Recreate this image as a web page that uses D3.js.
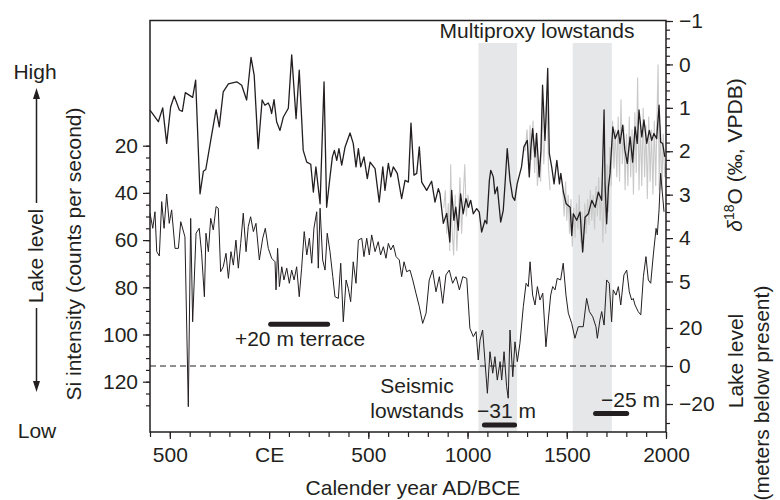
<!DOCTYPE html>
<html>
<head>
<meta charset="utf-8">
<script src="https://cdn.jsdelivr.net/npm/d3@7"></script>
<style>
body { margin: 0; background: #fff; }
svg { display: block; font-family: "Liberation Sans", Arial, sans-serif; }
</style>
</head>
<body>
<svg id="chart" width="780" height="500"></svg>
<script>
// delta 18O record, [year, permil]
var d18oRecord = [[-600,1.05],[-558,1.32],[-536,1.00],[-516,1.82],[-496,0.98],[-478,0.73],[-452,1.05],[-437,1.08],[-422,0.65],[-385,0.76],[-370,0.36],[-348,2.98],[-331,2.46],[-319,2.42],[-291,1.67],[-267,1.04],[-251,1.44],[-231,0.63],[-205,0.45],[-163,0.40],[-138,0.48],[-113,0.82],[-91,-0.16],[-75,0.25],[-55,1.94],[-35,0.82],[-21,0.94],[-4,0.89],[5,0.98],[13,1.13],[25,0.81],[38,1.32],[55,1.52],[72,1.21],[97,1.01],[114,-0.22],[136,1.25],[152,0.13],[172,1.98],[190,2.25],[210,2.30],[223,2.94],[236,2.36],[257,3.21],[277,0.40],[290,3.29],[307,2.59],[319,2.13],[329,1.98],[341,2.21],[352,1.94],[366,2.32],[383,1.90],[408,1.58],[424,1.82],[438,2.36],[450,1.94],[462,2.36],[478,2.13],[495,2.63],[509,2.25],[534,2.40],[555,3.17],[573,2.36],[584,2.90],[601,2.28],[613,2.59],[626,2.36],[646,2.51],[668,3.09],[685,2.67],[702,2.71],[715,1.35],[730,2.55],[744,2.51],[757,1.90],[769,2.71],[794,2.90],[819,2.69],[836,3.17],[853,2.86],[861,2.98],[878,3.66],[895,3.43],[911,4.09],[920,2.90],[931,3.59],[941,3.29],[953,3.82],[965,2.98],[978,3.44],[992,3.09],[1004,3.29],[1016,3.13],[1029,3.44],[1046,3.32],[1059,3.40],[1071,3.86],[1088,3.59],[1097,3.67],[1110,2.67],[1117,2.44],[1130,2.59],[1138,2.98],[1150,2.82],[1167,3.63],[1180,3.36],[1189,2.75],[1200,1.94],[1214,2.67],[1227,3.05],[1238,3.13],[1250,2.75],[1272,2.36],[1284,1.90],[1301,1.75],[1311,2.59],[1318,1.98],[1328,1.48],[1340,2.13],[1348,1.59],[1361,2.59],[1370,1.98],[1378,0.48],[1390,1.75],[1395,1.28],[1404,0.09],[1412,2.05],[1424,2.36],[1436,2.75],[1450,2.21],[1463,2.75],[1470,2.51],[1483,2.94],[1497,3.21],[1517,3.29],[1525,3.94],[1533,3.44],[1550,3.59],[1567,3.40],[1580,4.32],[1592,3.52],[1609,3.44],[1626,3.13],[1643,3.29],[1659,2.94],[1676,3.13],[1688,1.05],[1693,2.75],[1701,3.67],[1710,2.82],[1718,2.51],[1732,1.44],[1744,1.71],[1760,1.52],[1768,1.82],[1782,1.40],[1793,1.98],[1805,2.28],[1819,1.67],[1832,2.25],[1844,1.44],[1855,1.82],[1864,1.05],[1878,1.67],[1889,1.28],[1903,1.82],[1916,1.52],[1928,1.75],[1939,1.59],[1953,1.71],[1965,0.94],[1973,1.79],[1983,1.82],[1994,2.13]];

// higher resolution delta 18O pieces, drawn in grey behind
var d18oFineA = [[880,3.3],[888,2.9],[895,3.9],[903,3.2],[910,4.3],[915,2.3],[922,3.8],[930,4.4],[938,3.0],[946,4.3],[954,3.5],[962,2.6],[970,3.9],[978,3.1],[986,2.3],[994,3.5],[1002,3.0],[1010,3.3]];
var d18oFineB = [[1290,2.0],[1300,1.5],[1308,2.4],[1315,1.4],[1322,2.2],[1330,1.3],[1338,2.5],[1345,1.6],[1352,2.8],[1360,2.2],[1368,2.7],[1375,1.0],[1384,2.3],[1392,1.5],[1400,0.6],[1408,2.4],[1416,2.9]];
var d18oFineC = [[1480,2.9],[1487,3.5],[1494,2.7],[1500,3.6],[1507,3.0],[1514,3.9],[1521,3.1],[1528,4.2],[1535,3.3],[1542,4.0],[1549,3.2],[1556,3.8],[1563,3.0],[1570,4.1],[1577,3.4],[1584,4.3],[1591,3.2],[1598,3.9],[1605,3.1],[1612,3.7],[1619,2.9],[1626,3.6],[1633,3.0],[1640,3.8],[1647,2.8],[1654,3.5],[1661,2.6],[1668,3.6],[1675,2.9],[1682,4.1],[1689,2.7],[1696,3.9],[1703,2.3],[1710,3.4],[1717,1.9],[1724,2.8],[1731,1.3],[1738,2.4],[1745,1.5],[1752,2.6],[1759,1.2],[1766,2.7],[1773,0.8],[1780,2.3],[1787,1.4],[1794,2.9],[1801,1.6],[1808,2.8],[1815,1.2],[1822,2.6],[1829,1.5],[1836,3.0],[1843,1.1],[1850,2.5],[1857,0.3],[1864,2.9],[1871,1.3],[1878,2.8],[1885,1.0],[1892,2.6],[1899,1.4],[1906,3.1],[1913,1.2],[1920,2.7],[1927,1.5],[1934,3.0],[1941,1.3],[1948,2.8],[1955,1.1],[1960,0.0],[1966,2.9],[1972,1.4],[1979,2.9],[1986,1.6],[1993,2.6],[1998,2.3]];

// Si intensity, [year, counts per second]
var siRecord = [[-600,48.6],[-586,55.0],[-575,48.0],[-566,64.9],[-553,66.7],[-541,43.7],[-529,55.0],[-516,40.5],[-503,52.9],[-491,47.2],[-474,63.5],[-457,63.5],[-445,52.2],[-424,58.6],[-407,130.6],[-395,50.8],[-385,94.6],[-368,57.1],[-352,55.0],[-340,65.6],[-326,84.0],[-318,57.1],[-306,64.9],[-294,50.8],[-281,55.7],[-267,45.8],[-256,46.5],[-244,73.4],[-231,71.3],[-217,65.6],[-205,76.2],[-192,64.9],[-180,70.6],[-167,60.0],[-155,71.9],[-143,61.4],[-130,48.6],[-116,64.9],[-105,54.3],[-93,50.1],[-79,56.4],[-66,52.9],[-49,68.4],[-32,59.2],[-19,55.0],[-4,63.5],[13,67.7],[30,69.2],[35,81.1],[43,63.5],[52,79.7],[64,71.3],[75,76.9],[89,71.9],[102,78.3],[114,72.7],[126,76.9],[139,71.3],[152,84.0],[164,71.9],[177,56.4],[190,66.3],[203,59.2],[215,69.8],[226,55.0],[240,48.0],[248,71.9],[257,46.5],[270,68.4],[282,72.7],[293,57.1],[307,64.9],[321,75.5],[332,84.0],[349,84.7],[361,69.8],[374,94.6],[388,76.9],[399,80.4],[411,86.1],[424,69.2],[438,78.3],[450,60.0],[467,59.2],[478,67.0],[492,59.2],[505,66.3],[517,57.8],[534,64.9],[550,60.7],[562,66.3],[576,62.8],[589,67.7],[601,61.4],[613,64.2],[626,62.1],[640,67.0],[656,68.4],[668,75.5],[680,69.2],[693,73.4],[710,72.7],[724,76.9],[740,82.5],[757,88.2],[774,95.3],[791,91.0],[807,76.9],[824,72.7],[841,81.9],[858,75.5],[875,86.8],[891,74.8],[908,72.7],[925,78.3],[942,75.5],[959,81.1],[976,75.5],[996,76.2],[1012,97.4],[1029,100.9],[1043,98.8],[1054,110.8],[1063,102.3],[1076,98.1],[1088,111.5],[1100,124.9],[1113,107.3],[1127,116.4],[1138,109.4],[1150,119.3],[1164,111.5],[1172,119.3],[1184,107.3],[1197,122.1],[1205,127.0],[1214,98.1],[1228,117.9],[1239,103.1],[1251,111.5],[1264,103.7],[1281,88.2],[1295,78.3],[1306,79.7],[1315,69.2],[1328,83.3],[1340,87.5],[1352,79.7],[1365,85.4],[1379,82.5],[1395,105.2],[1407,93.9],[1419,83.3],[1429,79.7],[1441,81.1],[1452,76.2],[1469,76.9],[1482,69.8],[1496,83.3],[1508,91.0],[1525,95.3],[1541,101.6],[1558,96.7],[1583,96.7],[1600,84.7],[1614,90.3],[1631,92.5],[1647,96.7],[1654,101.6],[1667,93.9],[1676,90.3],[1688,96.0],[1701,76.9],[1714,78.3],[1726,94.6],[1734,81.1],[1748,83.3],[1760,79.7],[1772,87.5],[1788,74.8],[1802,72.7],[1815,81.9],[1827,85.4],[1835,84.7],[1844,87.5],[1860,90.3],[1873,91.7],[1886,75.5],[1899,67.0],[1911,76.9],[1923,78.3],[1936,66.3],[1950,55.0],[1956,57.8],[1965,47.2],[1973,31.7],[1990,48.0]];

var lowstandBands = [[1055, 1250], [1530, 1727]];
var terrace = { from: 8, to: 295, level: 22 };
var seismicLowstands = [{ from: 1085, to: 1237, level: -31 }, { from: 1645, to: 1802, level: -25 }];

var yearLabels = [-500, 0, 500, 1000, 1500, 2000];
var siLabels = [20, 40, 60, 80, 100, 120];
var d18oLabels = [-1, 0, 1, 2, 3, 4, 5];
var lakeLabels = [20, 0, -20];

var ink = "#231f20";
var fontSize = "21px";

function Chart(context)
{
	this.svg = context;
	this.x = d3.scaleLinear().domain([-600, 2000]).range([150, 666]);
	this.si = d3.scaleLinear().domain([0, 140]).range([98.5, 428.9]);
	this.d18o = d3.scaleLinear().domain([-1, 5]).range([21, 281.5]);
	this.lake = d3.scaleLinear().domain([-30, 30]).range([423, 309]);
	this.top = 20.5;
	this.bottom = 432;
}

Chart.prototype.DrawBands = function()
{
	var _this = this;
	this.svg.append("g").selectAll("rect")
		.data(lowstandBands)
		.enter().append("rect")
			.attr("x", function(d) { return _this.x(d[0]); })
			.attr("width", function(d) { return _this.x(d[1]) - _this.x(d[0]); })
			.attr("y", 43)
			.attr("height", this.bottom - 43)
			.attr("fill", "#e6e7e8");

	this.svg.append("line")
		.attr("x1", this.x(-600)).attr("x2", this.x(2000))
		.attr("y1", this.lake(0)).attr("y2", this.lake(0))
		.attr("stroke", ink)
		.attr("stroke-width", 1)
		.attr("stroke-dasharray", "6,4");
}

Chart.prototype.DrawRecords = function()
{
	var _this = this;
	var d18oLine = d3.line()
		.x(function(d) { return _this.x(d[0]); })
		.y(function(d) { return _this.d18o(d[1]); });
	var siLine = d3.line()
		.x(function(d) { return _this.x(d[0]); })
		.y(function(d) { return _this.si(d[1]); });

	this.svg.append("g").selectAll("path")
		.data([d18oFineA, d18oFineB, d18oFineC])
		.enter().append("path")
			.attr("d", d18oLine)
			.attr("fill", "none")
			.attr("stroke", "#c9c9c9")
			.attr("stroke-width", 1.1);

	this.svg.append("path")
		.attr("d", d18oLine(d18oRecord))
		.attr("fill", "none")
		.attr("stroke", ink)
		.attr("stroke-width", 1.3)
		.attr("stroke-linejoin", "round");

	this.svg.append("path")
		.attr("d", siLine(siRecord))
		.attr("fill", "none")
		.attr("stroke", ink)
		.attr("stroke-width", 1)
		.attr("stroke-linejoin", "round");
}

Chart.prototype.DrawBars = function()
{
	var _this = this;
	var bars = [terrace].concat(seismicLowstands);
	this.svg.append("g").selectAll("line")
		.data(bars)
		.enter().append("line")
			.attr("x1", function(d) { return _this.x(d.from); })
			.attr("x2", function(d) { return _this.x(d.to); })
			.attr("y1", function(d) { return _this.lake(d.level); })
			.attr("y2", function(d) { return _this.lake(d.level); })
			.attr("stroke", ink)
			.attr("stroke-width", 5)
			.attr("stroke-linecap", "round");
}

Chart.prototype.Axis = function(axis, transform)
{
	var g = this.svg.append("g")
		.attr("transform", transform)
		.call(axis);
	g.select(".domain").remove();
	g.selectAll("line").attr("stroke", ink).attr("stroke-width", 1.2);
	g.selectAll("text").attr("fill", ink).style("font-size", fontSize).style("font-family", "'Liberation Sans', Arial, sans-serif");
	return g;
}

Chart.prototype.DrawAxes = function()
{
	var b = "translate(0," + this.bottom + ")";
	this.Axis(d3.axisBottom(this.x).tickValues(d3.range(-600, 2001, 100)).tickSize(5).tickFormat(""), b);
	this.Axis(d3.axisBottom(this.x).tickValues(yearLabels).tickSize(7).tickPadding(8)
		.tickFormat(function(d) { return d === 0 ? "CE" : String(Math.abs(d)); }), b);

	this.Axis(d3.axisLeft(this.si).tickValues(d3.range(20, 131, 5)).tickSize(4).tickFormat(""), "translate(150,0)");
	this.Axis(d3.axisLeft(this.si).tickValues(siLabels).tickSize(7).tickPadding(5), "translate(150,0)");

	this.Axis(d3.axisRight(this.d18o).tickValues(d3.range(-1, 5.01, 0.2)).tickSize(4).tickFormat(""), "translate(666,0)");
	this.Axis(d3.axisRight(this.d18o).tickValues(d18oLabels).tickSize(7).tickPadding(6).tickFormat(d3.format("d")), "translate(666,0)");

	this.Axis(d3.axisRight(this.lake).tickValues(d3.range(-30, 31, 10)).tickSize(4).tickFormat(""), "translate(666,0)");
	this.Axis(d3.axisRight(this.lake).tickValues(lakeLabels).tickSize(7).tickPadding(6).tickFormat(d3.format("d")), "translate(666,0)");

	this.svg.append("path")
		.attr("d", "M150," + this.top + "H666V" + this.bottom + "H150Z")
		.attr("fill", "none")
		.attr("stroke", ink)
		.attr("stroke-width", 1.5);
}

Chart.prototype.Text = function(str, x, y, anchor, rotate)
{
	var t = this.svg.append("text")
		.attr("transform", "translate(" + x + "," + y + ")" + (rotate ? " rotate(-90)" : ""))
		.attr("text-anchor", anchor)
		.attr("fill", ink)
		.style("font-size", fontSize);
	if(str != null) t.text(str);
	return t;
}

Chart.prototype.DrawLabels = function()
{
	this.Text("Multiproxy lowstands", 537, 38, "middle");
	this.Text("+20 m terrace", 300, 346, "middle");
	this.Text("Seismic", 417, 393, "middle");
	this.Text("lowstands", 417, 418, "middle");
	this.Text("\u221231 m", 477, 418, "start");
	this.Text("\u221225 m", 601, 407, "start");

	this.Text("Calender year AD/BCE", 413, 495, "middle");
	this.Text("Si intensity (counts per second)", 81, 254, "middle", true);

	var d = this.Text(null, 742, 155, "middle", true);
	d.append("tspan").style("font-style", "italic").text("\u03b4");
	d.append("tspan").attr("dy", -8).style("font-size", "14px").text("18");
	d.append("tspan").attr("dy", 8).text("O (\u2030, VPDB)");

	this.Text("Lake level", 743, 361, "middle", true);
	this.Text("(meters below present)", 769, 393, "middle", true);

	// high / low lake level arrows
	this.Text("High", 35, 79, "middle");
	this.Text("Low", 37, 438, "middle");
	this.Text("Lake level", 43, 256, "middle", true);
	var arrows = [[203, 88], [308, 392]];
	var g = this.svg.append("g").attr("fill", ink).attr("stroke", ink);
	arrows.forEach(function(a)
	{
		var dir = a[1] < a[0] ? 1 : -1;
		g.append("line").attr("x1", 36.5).attr("x2", 36.5)
			.attr("y1", a[0]).attr("y2", a[1] + dir * 8)
			.attr("stroke-width", 1.5);
		g.append("path")
			.attr("d", "M36.5," + a[1] + "L33," + (a[1] + dir * 11) + "L40," + (a[1] + dir * 11) + "Z")
			.attr("stroke", "none");
	});
}

var chart = new Chart(d3.select("#chart"));
chart.DrawBands();
chart.DrawRecords();
chart.DrawBars();
chart.DrawAxes();
chart.DrawLabels();
</script>
</body>
</html>
